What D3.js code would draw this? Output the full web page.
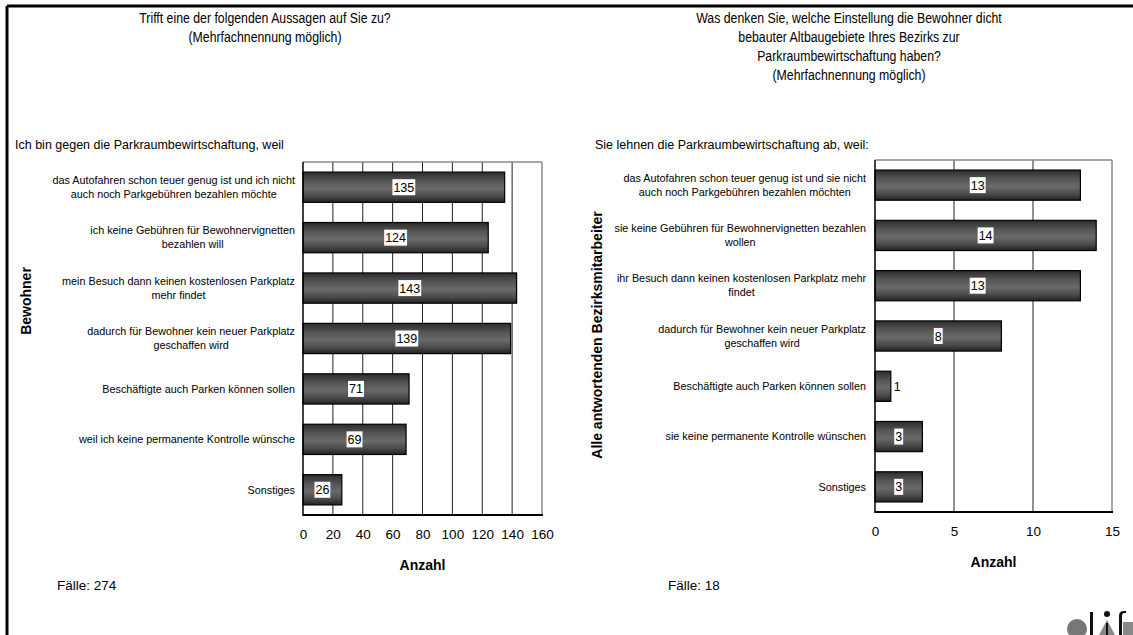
<!DOCTYPE html>
<html>
<head>
<meta charset="utf-8">
<script src="https://cdn.jsdelivr.net/npm/d3@7"></script>
<style>
  html, body { margin: 0; padding: 0; background: #fff; }
  svg { display: block; font-family: "Liberation Sans", Arial, sans-serif; }
</style>
</head>
<body>
<svg id="chart" width="1133" height="635"></svg>
<script>
// Survey results: reasons against parking management
const residentCategories = [
  "das Autofahren schon teuer genug ist und ich nicht\nauch noch Parkgebühren bezahlen möchte",
  "ich keine Gebühren für Bewohnervignetten\nbezahlen will",
  "mein Besuch dann keinen kostenlosen Parkplatz\nmehr findet",
  "dadurch für Bewohner kein neuer Parkplatz\ngeschaffen wird",
  "Beschäftigte auch Parken können sollen",
  "weil ich keine permanente Kontrolle wünsche",
  "Sonstiges"
];
const residentValues = [135, 124, 143, 139, 71, 69, 26];
const residentTicks = [0, 20, 40, 60, 80, 100, 120, 140, 160];

const staffCategories = [
  "das Autofahren schon teuer genug ist und sie nicht\nauch noch Parkgebühren bezahlen möchten",
  "sie keine Gebühren für Bewohnervignetten bezahlen\nwollen",
  "ihr Besuch dann keinen kostenlosen Parkplatz mehr\nfindet",
  "dadurch für Bewohner kein neuer Parkplatz\ngeschaffen wird",
  "Beschäftigte auch Parken können sollen",
  "sie keine permanente Kontrolle wünschen",
  "Sonstiges"
];
const staffValues = [13, 14, 13, 8, 1, 3, 3];
const staffTicks = [0, 5, 10, 15];

const svg = d3.select("#chart");

// bar fill: dark cylinder-like shading
const defs = svg.append("defs");
const grad = defs.append("linearGradient")
  .attr("id", "barFill").attr("x1", 0).attr("y1", 0).attr("x2", 0).attr("y2", 1);
[[0, "#2c2c2c"], [0.3, "#555"], [0.55, "#6a6a6a"], [0.8, "#4a4a4a"], [1, "#222"]]
  .forEach(([o, c]) => grad.append("stop").attr("offset", o).attr("stop-color", c));

// page frame (top and left edges)
svg.append("line").attr("x1", 7).attr("x2", 1133).attr("y1", 6).attr("y2", 6)
  .attr("stroke", "#000").attr("stroke-width", 3);
svg.append("line").attr("x1", 7).attr("x2", 7).attr("y1", 6).attr("y2", 635)
  .attr("stroke", "#000").attr("stroke-width", 3);

function panel(cfg) {
  const g = svg.append("g");

  // title, set in a narrow face
  const t = g.append("text").attr("text-anchor", "middle")
    .attr("font-size", 15).attr("fill", "#000")
    .attr("transform", `translate(${cfg.titleX},0) scale(0.82,1)`);
  cfg.title.forEach((line, i) => {
    t.append("tspan").attr("x", 0).attr("y", 23 + i * 19).text(line);
  });

  // subtitle above the plot
  g.append("text").attr("x", cfg.subX).attr("y", 149)
    .attr("font-size", 12.5).text(cfg.subtitle);

  const x = d3.scaleLinear().domain(cfg.domain).range([cfg.x0, cfg.x1]);
  const y = d3.scaleBand().domain(cfg.categories)
    .range([cfg.y0, cfg.y1]).paddingInner(0.4).paddingOuter(0.2);

  // vertical grid lines
  g.append("g").selectAll("line").data(cfg.ticks.slice(1, -1)).join("line")
    .attr("x1", d => x(d)).attr("x2", d => x(d))
    .attr("y1", cfg.y0).attr("y2", cfg.y1)
    .attr("stroke", "#222").attr("stroke-width", 1);

  // plot frame: light top and right, dark left and bottom
  g.append("line").attr("x1", cfg.x0).attr("x2", cfg.x1).attr("y1", cfg.y0).attr("y2", cfg.y0)
    .attr("stroke", "#8a8a8a").attr("stroke-width", 1.5);
  g.append("line").attr("x1", cfg.x1).attr("x2", cfg.x1).attr("y1", cfg.y0).attr("y2", cfg.y1)
    .attr("stroke", "#8a8a8a").attr("stroke-width", 1.5);

  // bars
  const rows = cfg.categories.map((c, i) => ({ c, v: cfg.values[i] }));
  g.append("g").selectAll("rect").data(rows).join("rect")
    .attr("x", x(0)).attr("y", d => y(d.c))
    .attr("width", d => x(d.v) - x(0)).attr("height", y.bandwidth())
    .attr("fill", "url(#barFill)").attr("stroke", "#000").attr("stroke-width", 1.2);

  g.append("line").attr("x1", cfg.x0).attr("x2", cfg.x0).attr("y1", cfg.y0).attr("y2", cfg.y1 + 1)
    .attr("stroke", "#000").attr("stroke-width", 1.5);
  g.append("line").attr("x1", cfg.x0).attr("x2", cfg.x1 + 1).attr("y1", cfg.y1).attr("y2", cfg.y1)
    .attr("stroke", "#000").attr("stroke-width", 2);

  // value labels on white boxes; too-short bars get the value beside them
  const lab = g.append("g").selectAll("g").data(rows).join("g");
  lab.each(function (d) {
    const el = d3.select(this);
    const w = x(d.v) - x(0);
    const cy = y(d.c) + y.bandwidth() / 2;
    const txt = el.append("text").attr("font-size", 12.5).attr("fill", "#000")
      .attr("dy", "0.36em").text(d.v);
    const tw = txt.node().getComputedTextLength();
    if (w > tw + 12) {
      const cx = x(d.v / 2);
      txt.attr("x", cx).attr("y", cy).attr("text-anchor", "middle");
      el.insert("rect", "text").attr("x", cx - tw / 2 - 1).attr("y", cy - 8)
        .attr("width", tw + 2).attr("height", 16).attr("fill", "#fff");
    } else {
      txt.attr("x", x(d.v) + 3).attr("y", cy).attr("text-anchor", "start");
    }
  });

  // category labels: centred lines, right-aligned block
  const cat = g.append("g").selectAll("text").data(rows).join("text")
    .attr("font-size", 10.8).attr("fill", "#000").attr("text-anchor", "middle");
  cat.each(function (d) {
    const el = d3.select(this);
    const lines = d.c.split("\n");
    const cy = y(d.c) + y.bandwidth() / 2;
    const lh = 14;
    const spans = lines.map((ln, i) => el.append("tspan")
      .attr("y", cy - (lines.length - 1) * lh / 2 + i * lh).attr("dy", "0.35em").text(ln));
    const maxW = d3.max(spans, s => s.node().getComputedTextLength());
    spans.forEach(s => s.attr("x", cfg.labelRight - maxW / 2));
  });

  // x axis tick labels
  const axis = d3.axisBottom(x).tickValues(cfg.ticks).tickSize(0).tickPadding(0);
  const ax = g.append("g").attr("transform", `translate(0,${cfg.y1 + 14})`).call(axis);
  ax.select(".domain").remove();
  ax.selectAll("text").attr("font-size", 13.5).attr("fill", "#000")
    .attr("font-family", "Liberation Sans, Arial, sans-serif");

  // axis titles
  g.append("text").attr("x", (cfg.x0 + cfg.x1) / 2).attr("y", cfg.y1 + 55)
    .attr("text-anchor", "middle").attr("font-size", 14).attr("font-weight", "bold").text("Anzahl");
  g.append("text").attr("transform", `translate(${cfg.yTitleX},${cfg.yTitleY}) rotate(-90)`)
    .attr("text-anchor", "middle").attr("font-size", 14).attr("font-weight", "bold").text(cfg.yTitle);

  // case count
  g.append("text").attr("x", cfg.nX).attr("y", 590).attr("font-size", 13.5).text(cfg.cases);
}

panel({
  title: ["Trifft eine der folgenden Aussagen auf Sie zu?", "(Mehrfachnennung möglich)"],
  titleX: 265,
  subtitle: "Ich bin gegen die Parkraumbewirtschaftung, weil",
  subX: 15,
  categories: residentCategories, values: residentValues, ticks: residentTicks,
  domain: [0, 160], x0: 303, x1: 542, y0: 162, y1: 515,
  labelRight: 295,
  yTitle: "Bewohner", yTitleX: 31, yTitleY: 301,
  cases: "Fälle: 274", nX: 57
});

panel({
  title: ["Was denken Sie, welche Einstellung die Bewohner dicht",
          "bebauter Altbaugebiete Ihres Bezirks zur",
          "Parkraumbewirtschaftung haben?",
          "(Mehrfachnennung möglich)"],
  titleX: 849,
  subtitle: "Sie lehnen die Parkraumbewirtschaftung ab, weil:",
  subX: 595,
  categories: staffCategories, values: staffValues, ticks: staffTicks,
  domain: [0, 15], x0: 875, x1: 1112, y0: 160, y1: 512,
  labelRight: 866,
  yTitle: "Alle antwortenden Bezirksmitarbeiter", yTitleX: 602, yTitleY: 335,
  cases: "Fälle: 18", nX: 668
});

// difu logo mark in the bottom-right corner
const logo = svg.append("g");
logo.append("circle").attr("cx", 1077).attr("cy", 629).attr("r", 10).attr("fill", "#777");
logo.append("rect").attr("x", 1090).attr("y", 612).attr("width", 3).attr("height", 23).attr("fill", "#111");
logo.append("path").attr("d", "M1107,620 L1115,635 L1099,635 Z").attr("fill", "#888");
logo.append("circle").attr("cx", 1107).attr("cy", 614).attr("r", 3).attr("fill", "#111");
logo.append("rect").attr("x", 1106).attr("y", 623).attr("width", 2).attr("height", 12).attr("fill", "#111");
logo.append("path").attr("d", "M1119,635 L1119,616 Q1119,611 1124,611 L1126,611 L1126,613 L1124,613 Q1122,613 1122,617 L1122,635 Z")
  .attr("fill", "#111");
logo.append("rect").attr("x", 1123).attr("y", 622).attr("width", 10).attr("height", 13).attr("fill", "#888");
</script>
</body>
</html>
